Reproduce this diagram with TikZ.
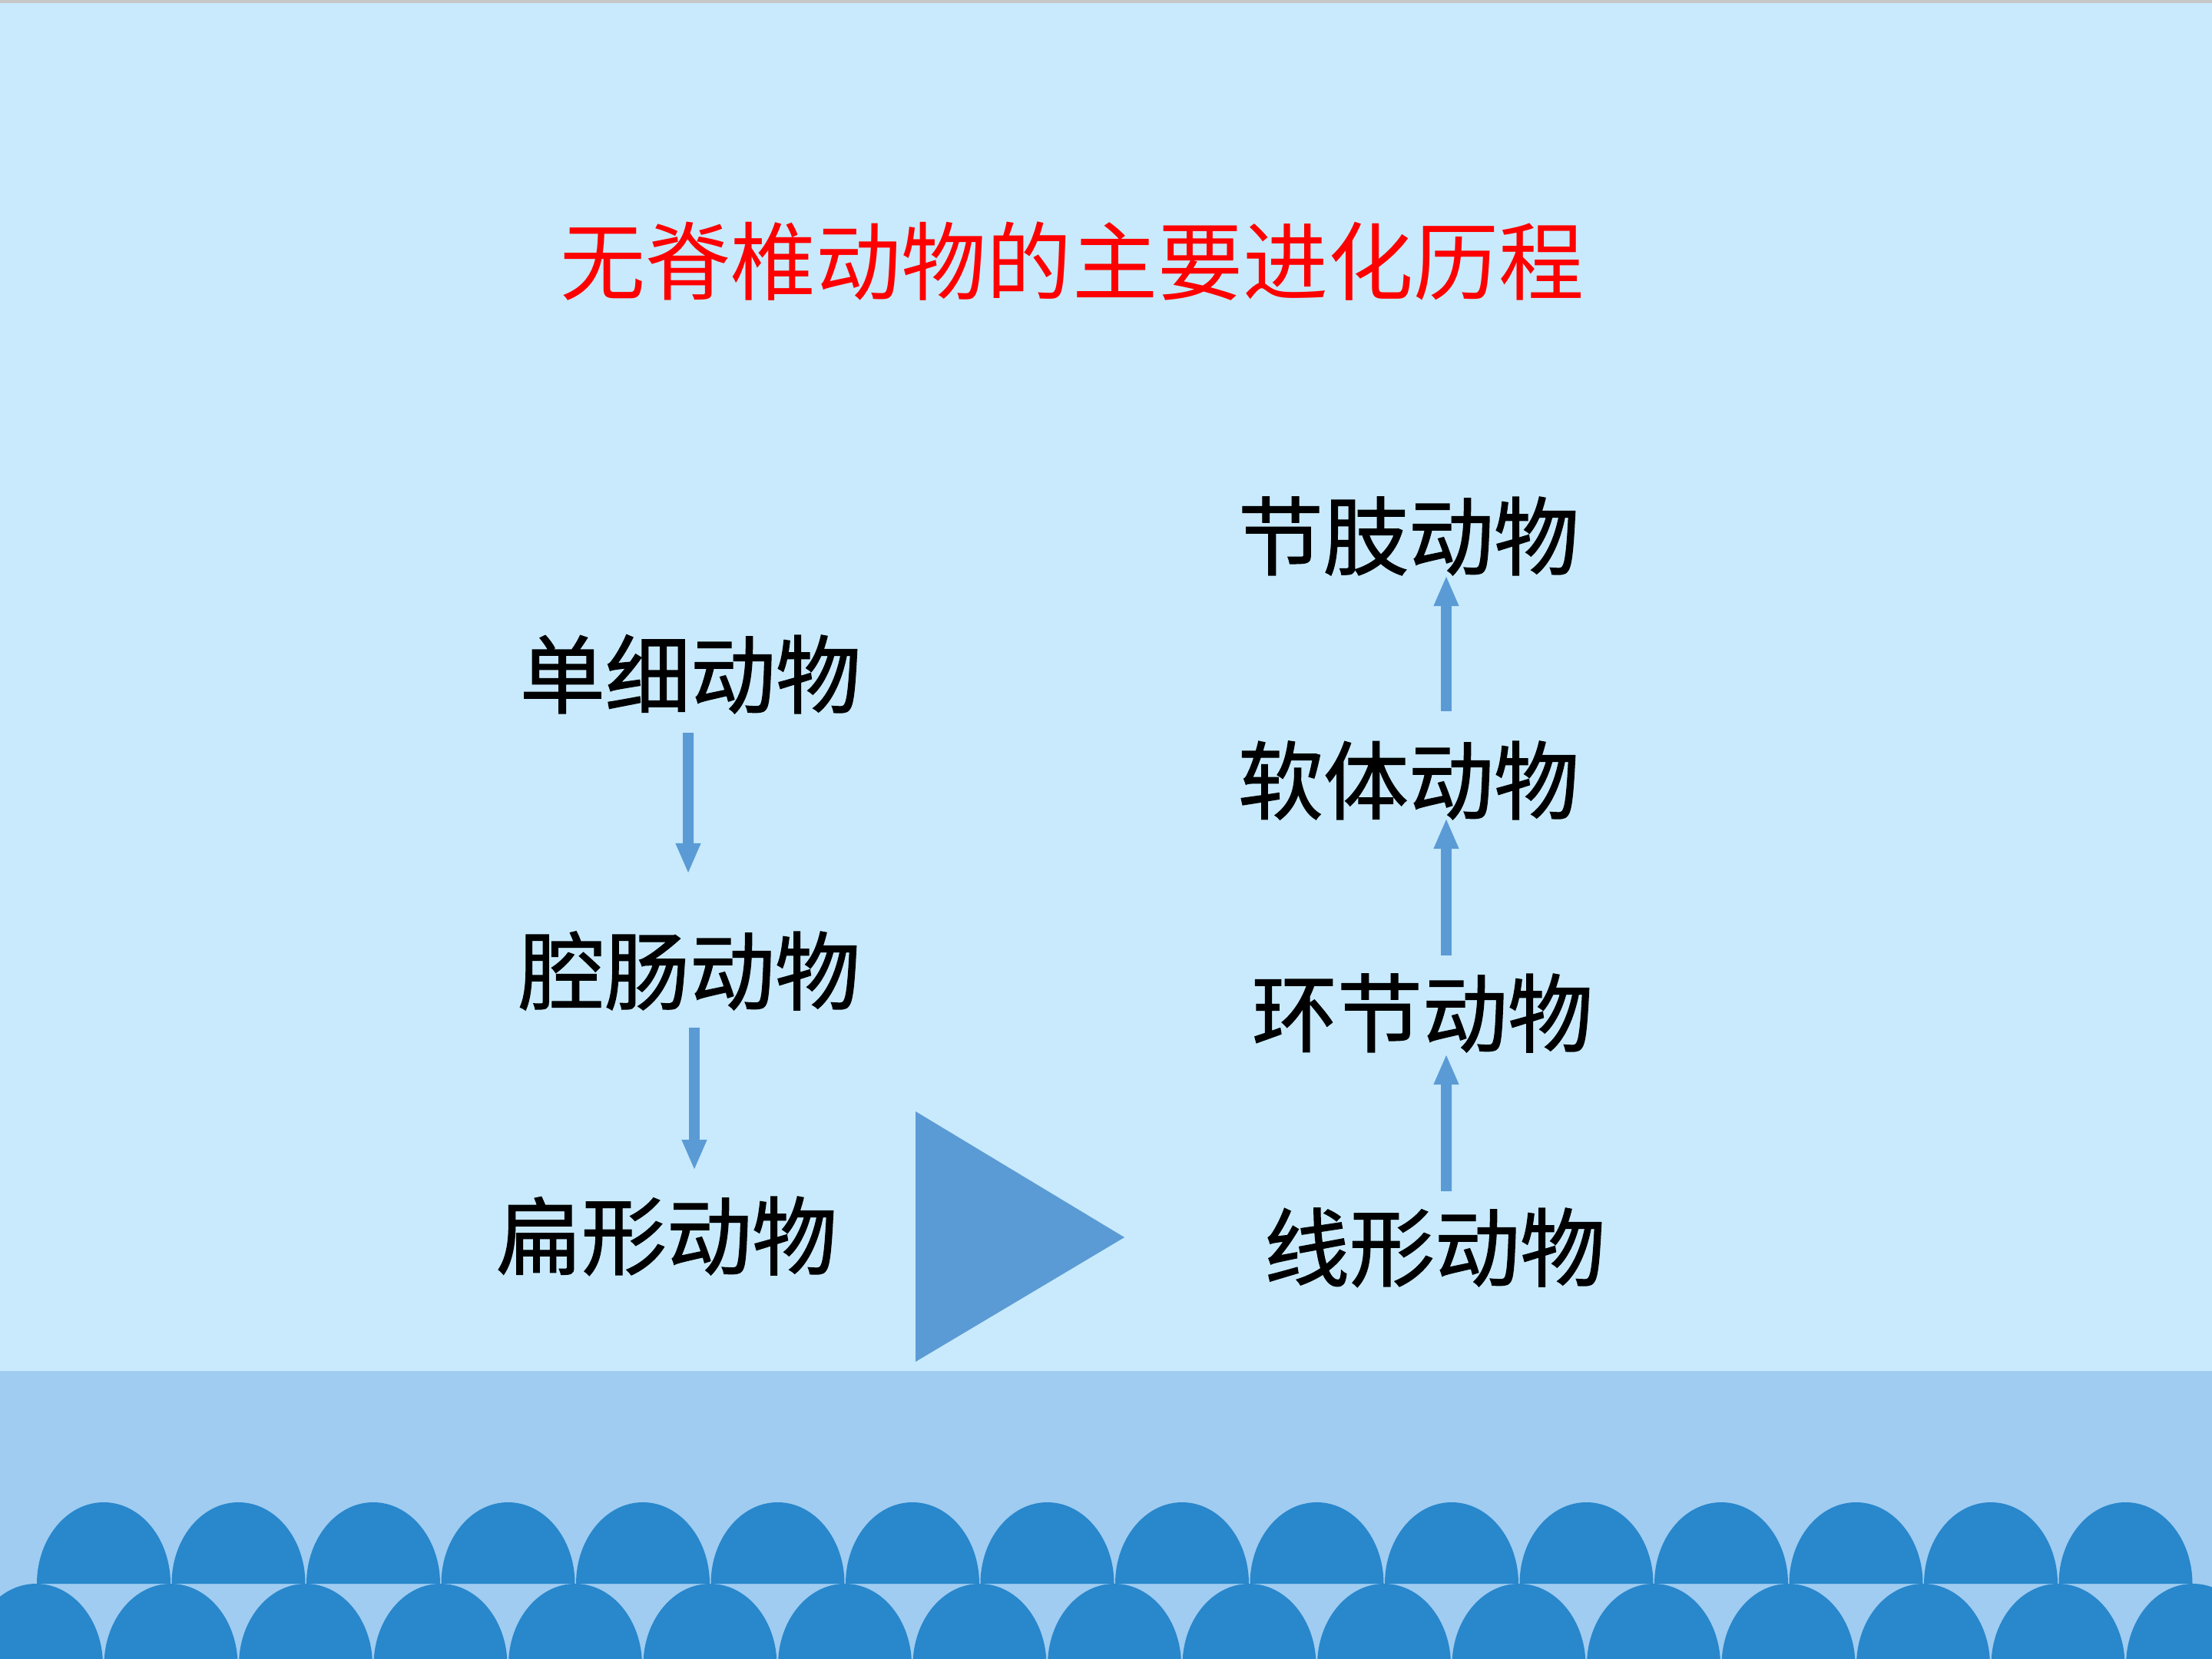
\documentclass[tikz,border=0pt]{standalone}
\usepackage{fontspec}
\newfontfamily\cjk[FakeBold=1.2]{Noto Sans CJK SC}
\newfontfamily\cjktitle{Noto Sans CJK SC}
\usetikzlibrary{arrows.meta}
\definecolor{skybg}{HTML}{C8EAFC}
\definecolor{bandbg}{HTML}{9FCCF0}
\definecolor{wave}{HTML}{2987CC}
\definecolor{arrblue}{HTML}{5B9BD5}
\begin{document}
\begin{tikzpicture}[
  taxon/.style={inner sep=0pt, text height=0.977cm, text depth=0.133cm, font=\cjk\fontsize{31.6pt}{38pt}\selectfont},
  heading/.style={taxon, font=\cjktitle\fontsize{31.6pt}{38pt}\selectfont, red},
  arr/.style={-{Triangle[width=0.3cm,length=0.4cm]}, line width=0.14cm, arrblue},
  scallop/.style={fill=wave}
]
\fill[skybg] (0,0) rectangle (28.8,-21.6);
\fill[black!22] (0,0) rectangle (28.8,-0.04);
\fill[bandbg] (0,-17.85) rectangle (28.8,-21.6);
\begin{scope}
\clip (0,0) rectangle (28.8,-21.6);
\foreach \i in {0,...,15}
  \fill[scallop] (0.48+1.755*\i,-20.62) arc[start angle=180, end angle=0, x radius=0.87, y radius=1.06] -- cycle;
\foreach \i in {0,...,16}
  \fill[scallop] (-0.40+1.755*\i,-21.68) arc[start angle=180, end angle=0, x radius=0.87, y radius=1.06] -- cycle;
\end{scope}
\useasboundingbox (0,0) rectangle (28.8,-21.6);

\node[heading] (title) at (13.96,-3.40) {无脊椎动物的主要进化历程};
\node[taxon] (dx) at (8.99,-8.78)  {单细动物};
\node[taxon] (qc) at (8.98,-12.64) {腔肠动物};
\node[taxon] (bx) at (8.68,-16.09) {扁形动物};
\node[taxon] (jz) at (18.34,-6.98)  {节肢动物};
\node[taxon] (rt) at (18.34,-10.16) {软体动物};
\node[taxon] (hj) at (18.52,-13.19) {环节动物};
\node[taxon] (xx) at (18.68,-16.24) {线形动物};

\fill[arrblue] (11.92,-14.47) -- (11.92,-17.73) -- (14.64,-16.11) -- cycle;

\draw[arr] ([xshift=-0.03cm,yshift=-0.2cm]dx.south) -- ([xshift=-0.02cm,yshift=0.7cm]qc.north);
\draw[arr] ([xshift=0.06cm,yshift=-0.18cm]qc.south) -- ([xshift=0.36cm,yshift=0.29cm]bx.north);
\draw[arr] ([xshift=0.15cm,yshift=0.17cm]xx.north) -- ([xshift=0.31cm,yshift=0.03cm]hj.south);
\draw[arr] ([xshift=0.31cm,yshift=0.19cm]hj.north) -- ([xshift=0.49cm,yshift=0.07cm]rt.south);
\draw[arr] ([xshift=0.49cm,yshift=0.34cm]rt.north) -- ([xshift=0.49cm,yshift=0.05cm]jz.south);
\end{tikzpicture}
\end{document}
